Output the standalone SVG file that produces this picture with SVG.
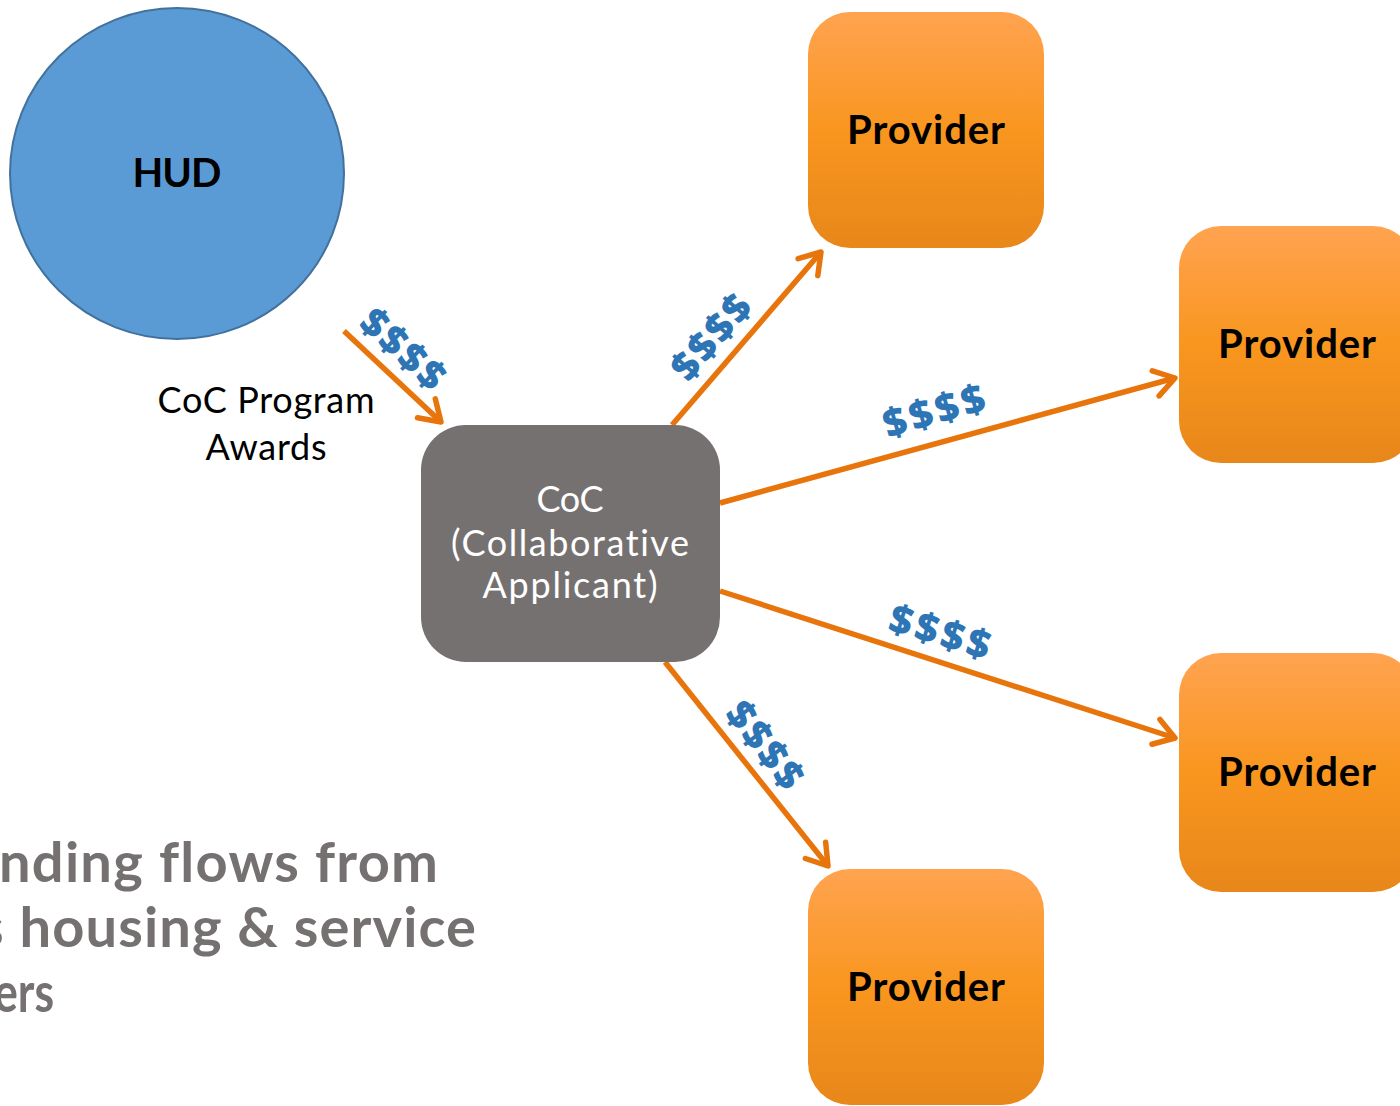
<svg xmlns="http://www.w3.org/2000/svg" width="1400" height="1106" viewBox="0 0 1400 1106">
<defs>
<linearGradient id="prov" x1="0" y1="0" x2="0" y2="1">
<stop offset="0" stop-color="#FFA350"/>
<stop offset="0.5" stop-color="#F9961F"/>
<stop offset="1" stop-color="#E8871A"/>
</linearGradient>
<marker id="arr" markerUnits="userSpaceOnUse" markerWidth="34" markerHeight="34" viewBox="0 0 34 34" refX="28" refY="17" orient="auto">
<path d="M8,4 L28,17 L8,30" fill="none" stroke="#E8740C" stroke-width="5.5" stroke-linecap="round" stroke-linejoin="round"/>
</marker>
</defs>
<style>
text{font-variant-ligatures:none;font-feature-settings:"liga" 0}
.conn{stroke:#E8740C;stroke-width:5.5;fill:none;marker-end:url(#arr)}
.prov{fill:url(#prov)}
.ptxt{font-family:Lato,"Open Sans",sans-serif;font-weight:700;font-size:40px;fill:#000;text-anchor:middle}
.money{font-family:"Open Sans",Lato,sans-serif;font-weight:800;font-size:40px;fill:#2E75B6;text-anchor:middle}
.lbl{font-family:Lato,"Open Sans",sans-serif;font-size:36px;fill:#000;text-anchor:middle}
.coc{font-family:Lato,"Open Sans",sans-serif;font-size:36px;fill:#fff;text-anchor:middle}
.title{font-family:Lato,"Open Sans",sans-serif;font-weight:700;font-size:56px;fill:#767171}
</style>
<rect width="1400" height="1106" fill="#fff"/>

<g id="title">
<text class="title" x="-1" y="882" textLength="439">nding flows from</text>
<text class="title" x="-21" y="947" textLength="497">s housing &amp; service</text>
<text class="title" x="-6" y="1012" textLength="60" lengthAdjust="spacingAndGlyphs">ers</text>
</g>

<g id="connectors">
<line class="conn" x1="344" y1="331" x2="441" y2="422"/>
<line class="conn" x1="672" y1="425" x2="821" y2="252"/>
<line class="conn" x1="720" y1="503" x2="1175" y2="378"/>
<line class="conn" x1="720" y1="591" x2="1175" y2="738"/>
<line class="conn" x1="665" y1="662" x2="828" y2="866"/>
</g>

<g id="labels">
<text class="money" transform="translate(403,349) rotate(42.5)" x="0" y="14" textLength="100">$$$$</text>
<text class="money" transform="translate(711,337) rotate(-49)" x="0" y="14" textLength="100">$$$$</text>
<text class="money" transform="translate(934,411) rotate(-16)" x="0" y="14" textLength="104">$$$$</text>
<text class="money" transform="translate(940,632) rotate(17)" x="0" y="14" textLength="104">$$$$</text>
<text class="money" transform="translate(765,745) rotate(52)" x="0" y="14" textLength="100">$$$$</text>
<text class="lbl" x="266" y="413" textLength="217">CoC Program</text>
<text class="lbl" x="266" y="460" textLength="121">Awards</text>
</g>

<g id="hud">
<ellipse cx="177" cy="173.5" rx="167" ry="165.5" fill="#5B9BD5" stroke="#41719C" stroke-width="2"/>
<text class="ptxt" x="177" y="187" font-size="41" textLength="89">HUD</text>
</g>

<g id="coc">
<rect x="421" y="425" width="299" height="237" rx="45" fill="#767171"/>
<text class="coc" x="570" y="512" textLength="67">CoC</text>
<text class="coc" x="570" y="556" textLength="238">(Collaborative</text>
<text class="coc" x="570" y="598" textLength="175">Applicant)</text>
</g>

<g id="provider1">
<rect class="prov" x="808" y="12" width="236" height="236" rx="42"/>
<text class="ptxt" x="926" y="144" textLength="158">Provider</text>
</g>
<g id="provider2">
<rect class="prov" x="1179" y="226" width="236" height="237" rx="42"/>
<text class="ptxt" x="1297" y="358" textLength="158">Provider</text>
</g>
<g id="provider3">
<rect class="prov" x="1179" y="653" width="236" height="239" rx="42"/>
<text class="ptxt" x="1297" y="786" textLength="158">Provider</text>
</g>
<g id="provider4">
<rect class="prov" x="808" y="869" width="236" height="236" rx="42"/>
<text class="ptxt" x="926" y="1001" textLength="158">Provider</text>
</g>
</svg>
